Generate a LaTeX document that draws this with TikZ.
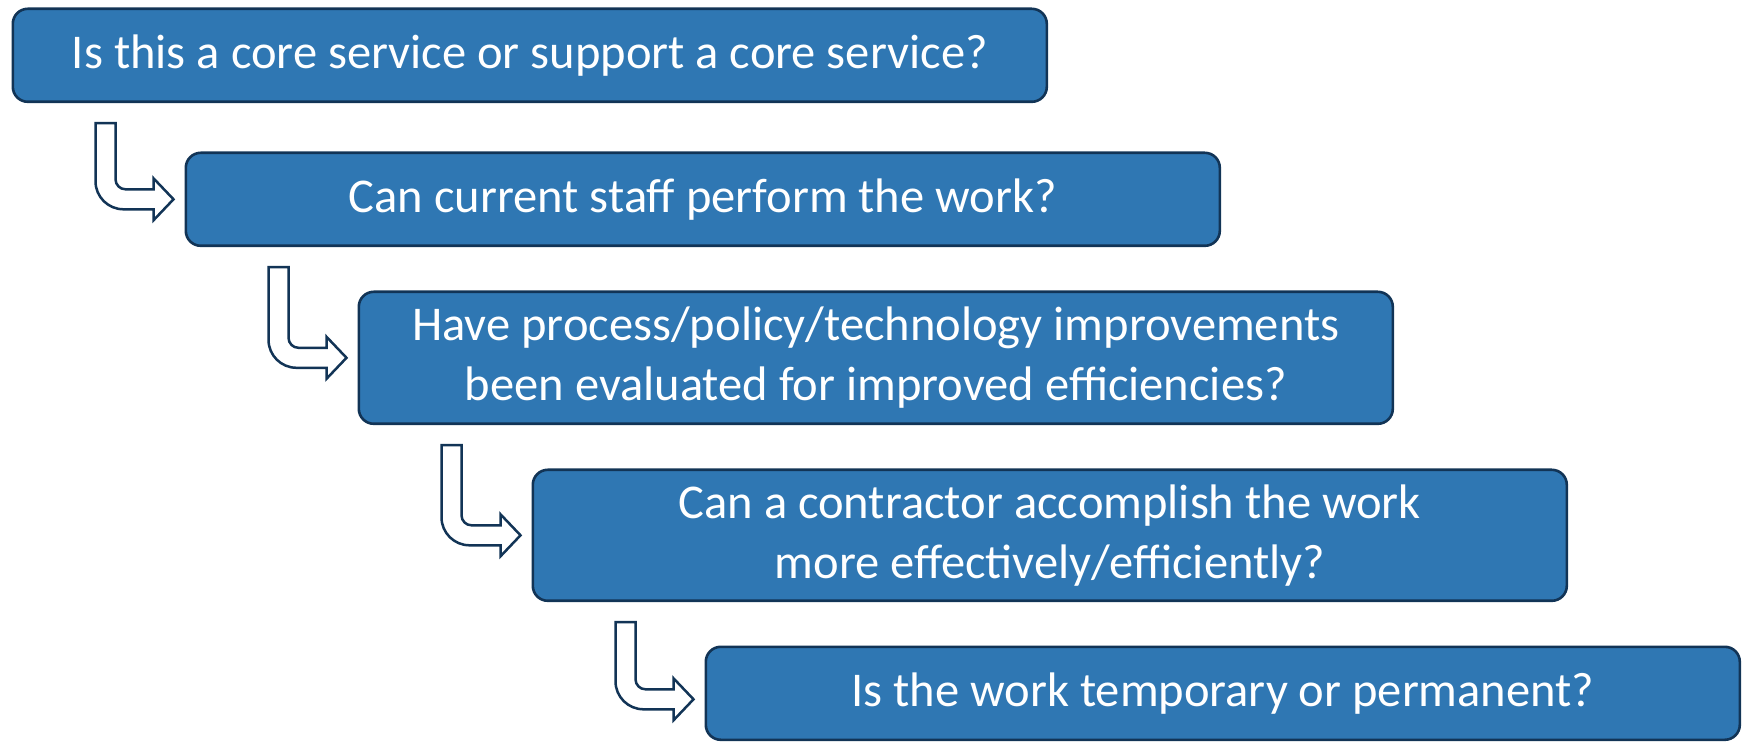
\documentclass[tikz,border=0pt]{standalone}
\usepackage{fontspec}
\setmainfont{Carlito}
\usetikzlibrary{calc}
\definecolor{boxfill}{RGB}{47,119,179}
\definecolor{boxline}{RGB}{18,52,86}
\tikzset{
  qbox/.style={draw=boxline, fill=boxfill, line width=2.6pt, rounded corners=15pt,
    minimum width=1034pt, anchor=north west, text=white, align=center,
    font=\fontsize{48.5}{60}\selectfont, inner sep=0pt},
  barrow/.style={draw=boxline, fill=white, line width=2.5pt, line join=miter}
}
% bent block arrow from the bottom of one box to the left side of the next
\newcommand\bentarrow[3]{%
  \draw[barrow] let \p1=($(#1.south west)+(84,-20)$), \p2=($(#2.west)+(-11,#3)$) in
    (\x1,\y1) -- ++(20pt,0pt) -- (\x1+20pt,\y2+20pt)
    arc[start angle=180, end angle=270, radius=10pt]
    -- (\x2-20pt,\y2+10pt) -- (\x2-20pt,\y2+21pt) -- (\x2,\y2)
    -- (\x2-20pt,\y2-21pt) -- (\x2-20pt,\y2-10pt) -- (\x1+28pt,\y2-10pt)
    arc[start angle=270, end angle=180, radius=28pt]
    -- cycle;
}
\begin{document}
\begin{tikzpicture}[x=1pt,y=1pt]
\useasboundingbox (0,0) rectangle (1743,742);
\node[qbox, minimum height=93pt] (b1) at (11.5,734.5) {Is this a core service or support a core service?};
\node[qbox, minimum height=93pt] (b2) at (184.5,590.5) {Can current staff perform the work?};
\node[qbox, minimum height=132pt] (b3) at (357.5,451.5) {Have process/policy/technology improvements\\been evaluated for improved efficiencies?};
\node[qbox, minimum height=131pt] (b4) at (531.5,273.5) {Can a contractor accomplish the work\\more effectively/efficiently?};
\node[qbox, minimum height=93pt] (b5) at (704.5,96.5) {Is the work temporary or permanent?};
\bentarrow{b1}{b2}{0}
\bentarrow{b2}{b3}{0}
\bentarrow{b3}{b4}{0}
\bentarrow{b4}{b5}{-6}
\end{tikzpicture}
\end{document}
